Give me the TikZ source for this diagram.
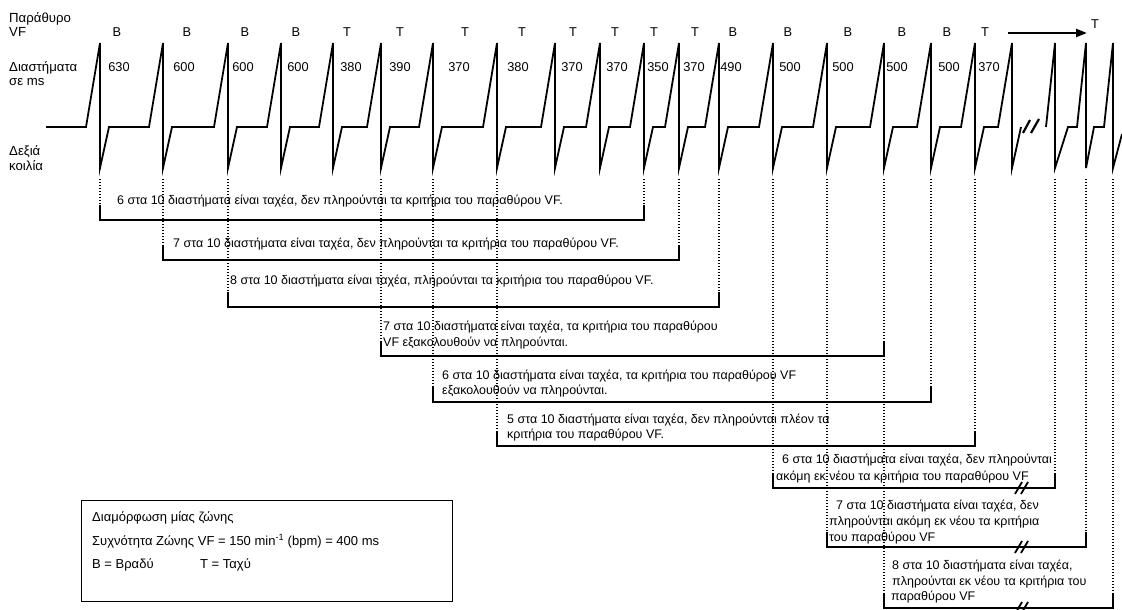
\documentclass[tikz,border=0pt]{standalone}
\usepackage{fontspec}
\setmainfont{Liberation Sans}
\usetikzlibrary{arrows.meta,calc}
\begin{document}
\begin{tikzpicture}[x=1pt,y=-1pt,
  wave/.style={line width=1.8pt, line join=miter},
  brk/.style={line width=1.2pt},
  dotline/.style={line width=1.1pt, dash pattern=on 1.4pt off 1.6pt},
  txt/.style={inner sep=0pt, font=\fontsize{12.5}{15}\selectfont, anchor=base west},
  side/.style={inner sep=0pt, font=\fontsize{13.2}{15}\selectfont, anchor=base west},
  legt/.style={inner sep=0pt, font=\fontsize{13}{15}\selectfont, anchor=base west},
  lab/.style={inner sep=0pt, font=\fontsize{12.8}{15}\selectfont, anchor=base},
  cut/.style={line width=2.2pt},
  cutb/.style={line width=1.8pt}]
\useasboundingbox (0,0) rectangle (1122,610);
% waveform before the break
\draw[wave] (46,127) \foreach \s in {100,163,228,281,333,381,433,497,555,600,644,679,719,773,827,884,931,975,1012} { -- (\s-14,127) -- (\s,43) -- (\s,168) -- (\s+9,127) };
% break marks on waveform
\draw[cut] (1023,133) -- (1030,120);
\draw[cut] (1031,133) -- (1039,119);
% waveform after the break
\draw[wave] (1046,127) -- (1055,43) -- (1055,168) -- (1068,127) -- (1077,127) -- (1086,43) -- (1086,168) -- (1094,127) -- (1104,127) -- (1113,43) -- (1113,168) -- (1122,134);
% spike reference coordinates
\foreach \s [count=\i] in {100,163,228,281,333,381,433,497,555,600,644,679,719,773,827,884,931,975,1012,1055,1086,1113}
  \coordinate (s\i) at (\s,179);
% brackets
\foreach \l/\xl/\r/\xr/\y [count=\i] in {1/100/11/644/220, 2/163/12/679/260, 3/228/13/719/307, 6/381/16/884/356, 7/433/17/931/402, 8/497/18/975/446, 14/773/20/1055/488, 15/827/21/1086/547, 16/884/22/1113/608} {
  \coordinate (bl\i) at (\xl,\y);
  \coordinate (br\i) at (\xr,\y);
  \coordinate (tl\i) at (\xl,\y-15);
  \coordinate (tr\i) at (\xr,\y-15);
  \draw[dotline] (s\l) -- (tl\i);
  \draw[dotline] (s\r) -- (tr\i);
  \draw[brk] (tl\i) -- (bl\i) -- (br\i) -- (tr\i);
}
% break marks on the last three brackets
\foreach \y in {488,547,608} {
  \draw[cutb] (1015,\y+6) -- (1022,\y-6);
  \draw[cutb] (1021,\y+6) -- (1028,\y-6);
}
% left labels
\node[side] (lp) at (9,22.5) {Παράθυρο};
\node[side] (lvf) at (9,37) {VF};
\node[side] (ld) at (9,71) {Διαστήματα};
\node[side] (lms) at (9,85.5) {σε ms};
\node[side] (lr) at (9,155) {Δεξιά};
\node[side] (lk) at (9,170) {κοιλία};
% window letters
\foreach \x/\t [count=\i] in {117/B,187/B,245/B,296/B,347/T,400/T,465/T,522/T,573/T,615/T,654/T,695/T,733/B,788/B,848/B,902/B,947/B,985/T}
  \node[lab] (w\i) at (\x,37) {\t};
% intervals
\foreach \x/\t [count=\i] in {119/630,184/600,243/600,298/600,351/380,400/390,459/370,518/380,572/370,617/370,658/350,694/370,731/490,790/500,843/500,897/500,949/500,989/370}
  \node[lab] (n\i) at (\x,71.5) {\t};
% arrow
\coordinate (a1) at (1008,33);
\coordinate (a2) at (1087,33);
\draw[line width=2.2pt, -{Triangle[length=11pt,width=8pt]}] (a1) -- (a2);
\node[lab] (tT) at (1095,29) {T};
% bracket texts
\node[txt] (t1) at (117,204) {6 στα 10 διαστήματα είναι ταχέα, δεν πληρούνται τα κριτήρια του παραθύρου VF.};
\node[txt] (t2) at (173,247) {7 στα 10 διαστήματα είναι ταχέα, δεν πληρούνται τα κριτήρια του παραθύρου VF.};
\node[txt] (t3) at (230,284) {8 στα 10 διαστήματα είναι ταχέα, πληρούνται τα κριτήρια του παραθύρου VF.};
\node[txt] (t4a) at (383,330) {7 στα 10 διαστήματα είναι ταχέα, τα κριτήρια του παραθύρου};
\node[txt] (t4b) at (383,346) {VF εξακολουθούν να πληρούνται.};
\node[txt] (t5a) at (442,379) {6 στα 10 διαστήματα είναι ταχέα, τα κριτήρια του παραθύρου VF};
\node[txt] (t5b) at (442,394) {εξακολουθούν να πληρούνται.};
\node[txt] (t6a) at (507,423) {5 στα 10 διαστήματα είναι ταχέα, δεν πληρούνται πλέον τα};
\node[txt] (t6b) at (507,438) {κριτήρια του παραθύρου VF.};
\node[txt] (t7a) at (782,463) {6 στα 10 διαστήματα είναι ταχέα, δεν πληρούνται};
\node[txt] (t7b) at (776,480) {ακόμη εκ νέου τα κριτήρια του παραθύρου VF};
\node[txt] (t8a) at (836,509) {7 στα 10 διαστήματα είναι ταχέα, δεν};
\node[txt] (t8b) at (829,525) {πληρούνται ακόμη εκ νέου τα κριτήρια};
\node[txt] (t8c) at (829,541) {του παραθύρου VF};
\node[txt] (t9a) at (892,569) {8 στα 10 διαστήματα είναι ταχέα,};
\node[txt] (t9b) at (892,585) {πληρούνται εκ νέου τα κριτήρια του};
\node[txt] (t9c) at (891,600) {παραθύρου VF};
% legend
\node[draw, line width=1.1pt, minimum width=371pt, minimum height=101pt, anchor=north west, inner sep=0pt] (leg) at (80.5,499.5) {};
\node[legt] (g1) at (92,521) {Διαμόρφωση μίας ζώνης};
\node[legt] (g2) at (92,545) {Συχνότητα Ζώνης VF = 150 min\textsuperscript{-1} (bpm) = 400 ms};
\node[legt] (g3) at (92,568) {B = Βραδύ};
\node[legt] (g4) at (200,568) {T = Ταχύ};
\end{tikzpicture}
\end{document}
